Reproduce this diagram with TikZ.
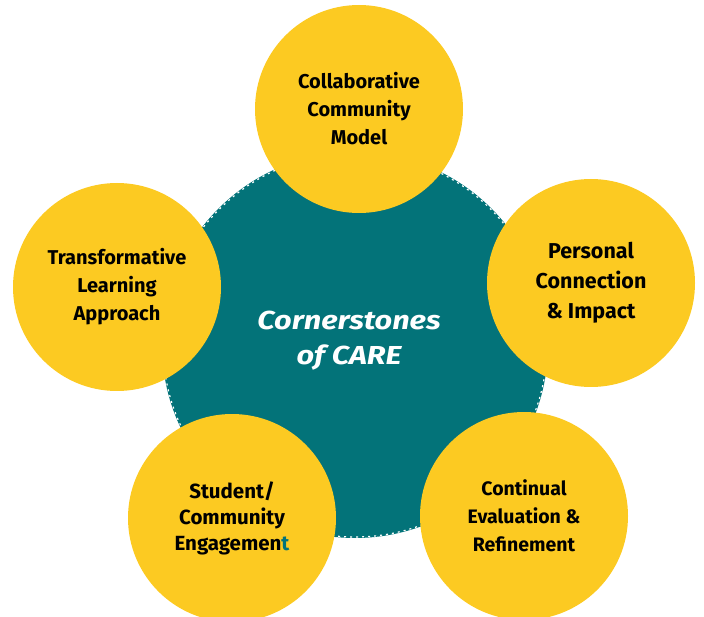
\documentclass[tikz,border=0pt]{standalone}
\usepackage{fontspec}
\setmainfont{Fira Sans}
\newfontfamily\titlefont[FakeStretch=1.18]{Fira Sans}
\definecolor{careteal}{HTML}{037379}
\definecolor{careyellow}{HTML}{FCCA22}
\begin{document}
\begin{tikzpicture}[x=1pt,y=-1pt,
  hub/.style={circle,fill=careteal,minimum size=386pt,inner sep=0pt},
  pillar/.style={circle,fill=careyellow,minimum size=208pt,inner sep=0pt,align=center,
    font=\bfseries\fontsize{20}{28}\selectfont}]
\useasboundingbox (0,0) rectangle (704,617);

\node[hub] (care) at (355,345) {};
\draw[white,line width=1.2pt,dash pattern=on 2pt off 4pt] (care) circle (192pt);
\node[text=white,align=center,font=\titlefont\bfseries\itshape\fontsize{26}{35}\selectfont] (title) at (349,341) {Cornerstones\\of CARE};

\node[pillar] (collab) at (359,109) {Collaborative\\Community\\Model};
\node[pillar,font=\bfseries\fontsize{21.5}{30}\selectfont] (personal) at (591,283) {Personal\\Connection\\\& Impact};
\node[pillar] (transform) at (117,287) {Transformative\\Learning\\Approach};
\node[pillar,font=\bfseries\fontsize{20.5}{26}\selectfont] (student) at (232,518) {Student/\\Community\\Engagemen\textcolor{careteal}{t}};
\node[pillar,font=\bfseries\fontsize{19.5}{28}\selectfont] (continual) at (524,516) {Continual\\Evaluation \&\\Refinement};

\end{tikzpicture}
\end{document}
